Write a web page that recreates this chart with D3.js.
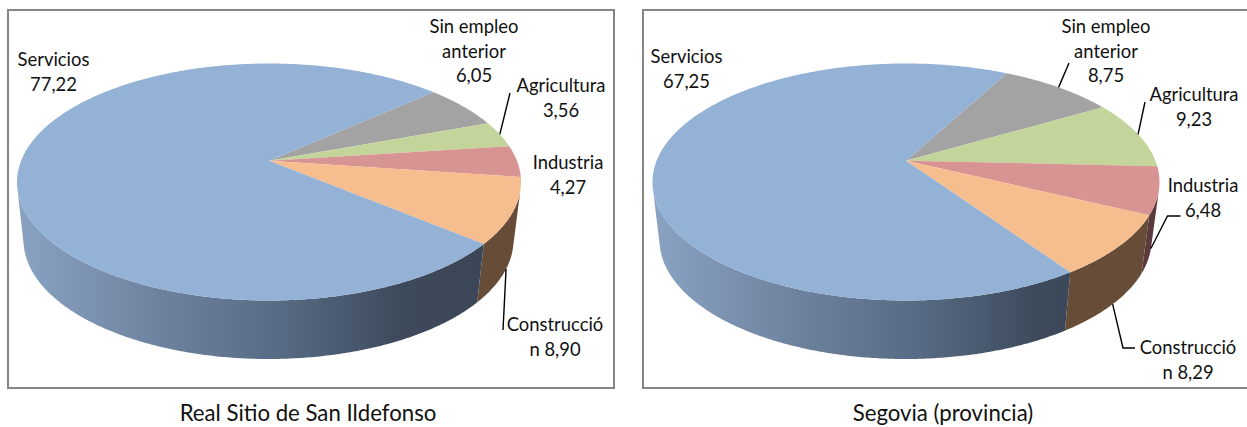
<!DOCTYPE html>
<html>
<head>
<meta charset="utf-8">
<script src="https://cdnjs.cloudflare.com/ajax/libs/d3/7.8.5/d3.min.js"></script>
<style>
    html, body { margin: 0; padding: 0; background: #fff; overflow: hidden; }
    svg { display: block; }
    text { font-family: Lato, "Open Sans", sans-serif; fill: #111; }
</style>
</head>
<body>
<svg id="chart" width="1247" height="427"></svg>
<script>
// clockwise from the first slice, as in the original charts
const categoryLines = [["Sin empleo", "anterior"], ["Agricultura"], ["Industria"], ["Construcció"], ["Servicios"]]
const valuePrefix = ["", "", "", "n ", ""]
const sanIldefonsoValues = [6.05, 3.56, 4.27, 8.90, 77.22]
const segoviaValues = [8.75, 9.23, 6.48, 8.29, 67.25]
const chartTitles = ["Real Sitio de San Ildefonso", "Segovia (provincia)"]

const topColors = ["#a3a3a3", "#c3d59a", "#d79492", "#f6bd8e", "#94b1d6"]
const wallColors = ["#5f5f5f", "#6f7a58", "#5a3a3d", "#674d38", "url(#wall-blue)"]

const charts = [
    {
        values: sanIldefonsoValues, title: chartTitles[0], titleX: 308, startDeg: 48,
        frame: [8, 10, 606, 378], cx: 269, rx: 252, wallCx: 268.5, wallRx: 245,
        labels: [[474, 33], [561, 92], [568, 169], [555, 331], [53.5, 66]],
        leaders: [null, { rim: "top", via: [[510, 93]] }, null, { rim: "bottom", via: [[503, 330]] }, null]
    },
    {
        // the right edge of this frame falls outside the picture
        values: segoviaValues, title: chartTitles[1], titleX: 943, startDeg: 28,
        frame: [643, 10, 612, 378], cx: 906, rx: 253.5, wallCx: 905.5, wallRx: 246,
        labels: [[1106, 33], [1194, 101], [1203, 192], [1188, 354], [686.5, 63]],
        leaders: [{ rim: "top", via: [[1069, 63]] }, { rim: "top", via: [[1145, 102]] },
            { rim: "bottom", via: [[1167.5, 216], [1180.5, 216]] },
            { rim: "bottom", via: [[1123, 348], [1135, 348]] }, null]
    }
]

// vertical geometry shared by both pies
const topCy = 182, topRy = 118.5
const wallCy = 240, wallRy = 119
const tilt = 0.18

const svg = d3.select("#chart")

const defs = svg.append("defs")
charts.forEach((c, i) => {
    const grad = defs.append("linearGradient")
        .attr("id", i === 0 ? "wall-blue" : "wall-blue-2")
        .attr("gradientUnits", "userSpaceOnUse")
        .attr("x1", c.cx - c.rx).attr("x2", c.cx + c.rx * 0.9)
        .attr("y1", 0).attr("y2", 0)
    grad.selectAll("stop")
        .data([[0, "#8aa3c3"], [0.3, "#6d829e"], [0.55, "#586b84"], [0.8, "#3d4a5c"], [1, "#3a4656"]])
        .enter().append("stop")
        .attr("offset", d => d[0])
        .attr("stop-color", d => d[1])
})

// a circle seen in perspective stays an ellipse but its center moves up, so
// angles go through a projective map of the disc rather than a plain squash
function projector(xScale, yScale) {
    const s = Math.sqrt(1 - tilt * tilt)
    return function (a) {
        const u = Math.sin(a), v = -Math.cos(a)
        const w = 1 - tilt * v
        return [xScale(u * s / w), yScale((v - tilt) / w)]
    }
}

function drawChart(c) {
    const g = svg.append("g")

    g.append("rect")
        .attr("x", c.frame[0]).attr("y", c.frame[1])
        .attr("width", c.frame[2]).attr("height", c.frame[3])
        .attr("fill", "#fff").attr("stroke", "#868686").attr("stroke-width", 2)

    const topX = d3.scaleLinear().domain([-1, 1]).range([c.cx - c.rx, c.cx + c.rx])
    const topY = d3.scaleLinear().domain([-1, 1]).range([topCy - topRy, topCy + topRy])
    const wallX = d3.scaleLinear().domain([-1, 1]).range([c.wallCx - c.wallRx, c.wallCx + c.wallRx])
    const wallY = d3.scaleLinear().domain([-1, 1]).range([wallCy - wallRy, wallCy + wallRy])
    const topPoint = projector(topX, topY)
    const wallPoint = projector(wallX, wallY)

    const start = c.startDeg * Math.PI / 180
    const slices = d3.pie().sort(null).startAngle(start).endAngle(start + 2 * Math.PI)(c.values)
    const step = Math.PI / 360
    const anglesOf = d => d3.range(d.startAngle, d.endAngle, step).concat([d.endAngle])
    const line = d3.line()

    // walls: thin quads between the two rims. back facing quads are dropped,
    // with them in the same path the overlaps cancel and leave holes
    g.selectAll("path.wall")
        .data(slices)
        .enter().append("path")
        .attr("class", "wall")
        .attr("fill", (d, i) => {
            if (i === 4) return c.values === segoviaValues ? "url(#wall-blue-2)" : wallColors[i]
            return wallColors[i]
        })
        .attr("d", d => {
            return d3.pairs(anglesOf(d))
                .map(p => [topPoint(p[0]), topPoint(p[1]), wallPoint(p[1]), wallPoint(p[0])])
                .filter(q => d3.polygonArea(q) > 0)
                .map(q => line(q) + "Z")
                .join("")
        })

    const apex = [topX(0), topY(-tilt)]
    g.selectAll("path.top")
        .data(slices)
        .enter().append("path")
        .attr("class", "top")
        .attr("fill", (d, i) => topColors[i])
        .attr("d", d => line([apex].concat(anglesOf(d).map(topPoint))) + "Z")

    // leader lines start from the rim at the middle of the slice
    c.leaders.forEach((l, i) => {
        if (!l) return
        const mid = (slices[i].startAngle + slices[i].endAngle) / 2
        const from = l.rim === "top" ? topPoint(mid) : wallPoint(mid)
        g.append("path")
            .attr("d", line([from].concat(l.via)))
            .attr("fill", "none").attr("stroke", "#000").attr("stroke-width", 1.4)
    })

    c.labels.forEach((pos, i) => {
        const value = valuePrefix[i] + c.values[i].toFixed(2).replace(".", ",")
        const t = g.append("text").attr("text-anchor", "middle").attr("font-size", 18.4)
        categoryLines[i].concat([value]).forEach((str, j) => {
            t.append("tspan").attr("x", pos[0]).attr("y", pos[1] + j * 24.5).text(str)
        })
    })

    g.append("text")
        .attr("x", c.titleX).attr("y", 421)
        .attr("text-anchor", "middle").attr("font-size", 22.2)
        .text(c.title)
}

charts.forEach(drawChart)
</script>
</body>
</html>
